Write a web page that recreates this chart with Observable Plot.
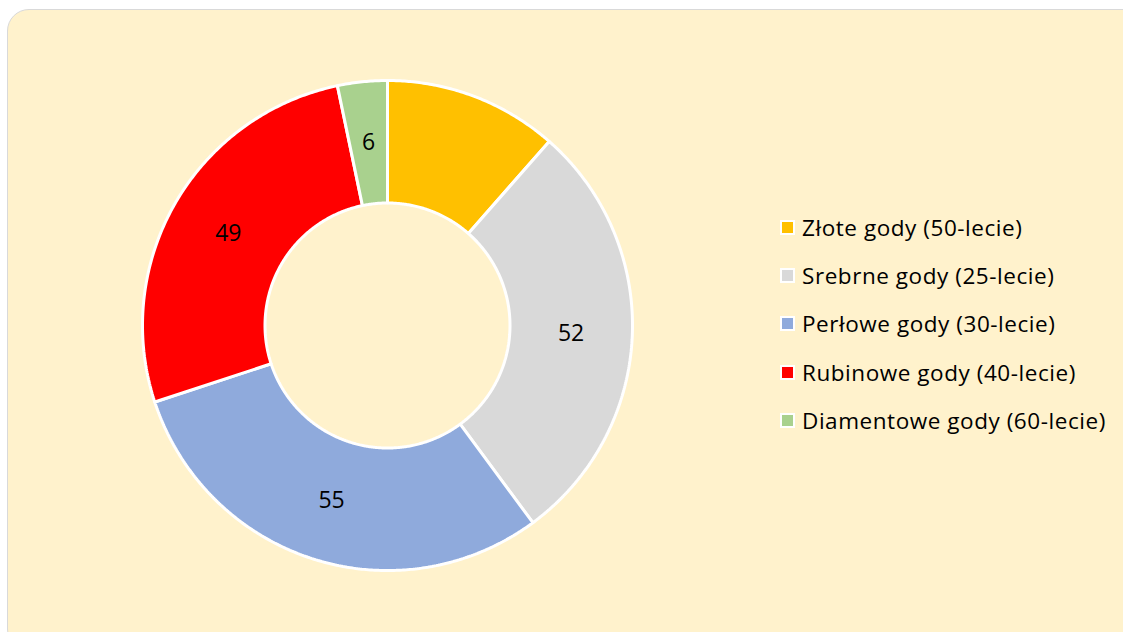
<!DOCTYPE html>
<html><head><meta charset="utf-8">
<script src="https://cdn.jsdelivr.net/npm/d3@7"></script>
<script src="https://cdn.jsdelivr.net/npm/@observablehq/plot@0.6"></script>
<style>
html,body{margin:0;padding:0;width:1123px;height:632px;overflow:hidden;background:#fff;}
#card{position:absolute;left:7px;top:9px;width:1140px;height:640px;background:#FFF2CC;border:1.5px solid #D9D9D9;border-radius:22px;}
#chart{position:absolute;left:0;top:0;}
#legend{position:absolute;left:780px;top:203px;font-family:"Open Sans",Lato,sans-serif;font-size:22.5px;letter-spacing:0.55px;color:#000;}
.row{height:48.3px;display:flex;align-items:center;}
.sw{width:11px;height:11px;border:2px solid #fff;margin-right:7px;}
</style></head>
<body>
<div id="card"></div>
<div id="chart"></div>
<div id="legend"></div>
<script>
const categories = ["Złote gody (50-lecie)","Srebrne gody (25-lecie)","Perłowe gody (30-lecie)","Rubinowe gody (40-lecie)","Diamentowe gody (60-lecie)"];
const values = [21, 52, 55, 49, 6];
const showLabel = [false, true, true, true, true];
const colors = ["#FFC000","#D9D9D9","#8FAADC","#FF0000","#A9D18E"];

const data = categories.map((c,i)=>({category:c, value:values[i], show:showLabel[i]}));
const inner = 0.5;
const arcs = d3.pie().sort(null).value(d=>d.value)(data);
const pts = [];
const labels = [];
for (const a of arcs) {
  const n = Math.max(4, Math.ceil((a.endAngle - a.startAngle) / (Math.PI/360)));
  const ring = [];
  for (let k=0;k<=n;k++){const t=a.startAngle+(a.endAngle-a.startAngle)*k/n; ring.push([Math.sin(t),Math.cos(t)]);}
  for (let k=n;k>=0;k--){const t=a.startAngle+(a.endAngle-a.startAngle)*k/n; ring.push([inner*Math.sin(t),inner*Math.cos(t)]);}
  ring.push(ring[0]);
  for (const [x,y] of ring) pts.push({x,y,category:a.data.category});
  if (a.data.show) {
    const m=(a.startAngle+a.endAngle)/2, r=(1+inner)/2;
    labels.push({x:r*Math.sin(m), y:r*Math.cos(m), text:String(a.data.value)});
  }
}
const cx = 387, cy = 325, R = 245;
const chart = Plot.plot({
  width:1123, height:632,
  marginLeft: cx-R, marginRight: 1123-(cx+R), marginTop: cy-R, marginBottom: 632-(cy+R),
  x:{domain:[-1,1], axis:null},
  y:{domain:[-1,1], axis:null},
  color:{domain:categories, range:colors, legend:false},
  style:{background:"transparent", fontFamily:"'Open Sans', Lato, sans-serif"},
  marks:[
    Plot.line(pts,{x:"x",y:"y",z:"category",fill:"category",stroke:"#fff",strokeWidth:3,strokeLinejoin:"miter",curve:"linear"}),
    Plot.text(labels,{x:"x",y:"y",text:"text",fontSize:23,fill:"#000"})
  ]
});
document.getElementById("chart").appendChild(chart);
const lg = document.getElementById("legend");
categories.forEach((c,i)=>{
  const row=document.createElement("div");row.className="row";
  const sw=document.createElement("div");sw.className="sw";sw.style.background=colors[i];
  const tx=document.createElement("span");tx.textContent=c;
  row.appendChild(sw);row.appendChild(tx);lg.appendChild(row);
});
</script>
</body></html>
